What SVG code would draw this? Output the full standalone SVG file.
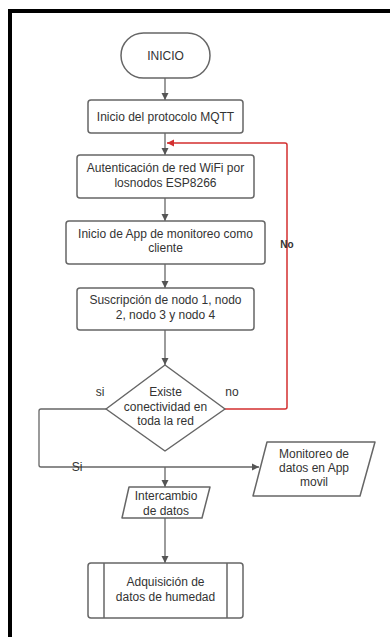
<svg xmlns="http://www.w3.org/2000/svg" width="390" height="637" viewBox="0 0 390 637">
<style>
.box{fill:#fff;stroke:#666;stroke-width:1.5}
.t{font-family:"Liberation Sans",Arial,sans-serif;font-size:12px;fill:#333;text-anchor:middle}
.l{fill:none;stroke:#666;stroke-width:1.3}
.r{fill:none;stroke:#d32f2f;stroke-width:1.5}
</style>
<defs>
<marker id="ah" markerWidth="8" markerHeight="8" refX="7" refY="4" orient="auto" markerUnits="userSpaceOnUse"><path d="M0,0.5 L7,4 L0,7.5 Z" fill="#555"/></marker>
<marker id="ahr" markerWidth="8" markerHeight="8" refX="7" refY="4" orient="auto" markerUnits="userSpaceOnUse"><path d="M0,0.5 L7,4 L0,7.5 Z" fill="#d32f2f"/></marker>
</defs>
<rect x="0" y="0" width="390" height="637" fill="#fff"/>
<path d="M10,637 V11 H390" fill="none" stroke="#000" stroke-width="4"/>
<g id="connectors">
<path class="l" d="M165,78 V100" marker-end="url(#ah)"/>
<path class="l" d="M165,133 V155" marker-end="url(#ah)"/>
<path class="l" d="M165,198 V221" marker-end="url(#ah)"/>
<path class="l" d="M165,264 V288" marker-end="url(#ah)"/>
<path class="l" d="M165,330 V365" marker-end="url(#ah)"/>
<path class="r" d="M225,409 H285 Q287,409 287,407 V145 Q287,143 285,143 H167" marker-end="url(#ahr)"/>
<path class="l" d="M106,409 H41 Q39,409 39,411 V465 Q39,467 41,467 H259" marker-end="url(#ah)"/>
<path class="l" d="M165,467 V487" marker-end="url(#ah)"/>
<path class="l" d="M165,518 V563" marker-end="url(#ah)"/>
<text class="t" x="287" y="248" style="font-size:10px;font-weight:bold">No</text>
<text class="t" x="100" y="396">si</text>
<text class="t" x="232" y="396">no</text>
<text class="t" x="77" y="471">Si</text>
</g>
<g id="inicio">
<rect class="box" x="121" y="33" width="89" height="45" rx="22.5"/>
<text class="t" x="165.5" y="59.5">INICIO</text>
</g>
<g id="mqtt">
<rect class="box" x="88" y="100" width="155" height="33" rx="3"/>
<text class="t" x="165.5" y="121">Inicio del protocolo MQTT</text>
</g>
<g id="auth">
<rect class="box" x="77" y="155" width="177" height="43" rx="3"/>
<text class="t" x="165.5" y="172">Autenticación de red WiFi por</text>
<text class="t" x="165.5" y="186.5">losnodos ESP8266</text>
</g>
<g id="app">
<rect class="box" x="66" y="221" width="199" height="43" rx="3"/>
<text class="t" x="165.5" y="237.5">Inicio de App de monitoreo como</text>
<text class="t" x="165.5" y="252">cliente</text>
</g>
<g id="suscripcion">
<rect class="box" x="77" y="288" width="177" height="42" rx="3"/>
<text class="t" x="165.5" y="304">Suscripción de nodo 1, nodo</text>
<text class="t" x="165.5" y="318.5">2, nodo 3 y nodo 4</text>
</g>
<g id="decision">
<path class="box" d="M165,365 L225,409 L165,451 L106,409 Z" stroke-linejoin="round"/>
<text class="t" x="165.5" y="396">Existe</text>
<text class="t" x="165.5" y="410.5">conectividad en</text>
<text class="t" x="165.5" y="424.5">toda la red</text>
</g>
<g id="monitoreo">
<path class="box" d="M267,442 H375 L360,496 H253 Z" stroke-linejoin="round"/>
<text class="t" x="314" y="458">Monitoreo de</text>
<text class="t" x="314" y="472">datos en App</text>
<text class="t" x="314" y="486">movil</text>
</g>
<g id="intercambio">
<path class="box" d="M129,487 H210 L202,518 H122 Z" stroke-linejoin="round"/>
<text class="t" x="166" y="500">Intercambio</text>
<text class="t" x="166" y="515">de datos</text>
</g>
<g id="adquisicion">
<rect class="box" x="88" y="563" width="155" height="55" rx="3"/>
<line class="box" x1="104" y1="563" x2="104" y2="618"/>
<line class="box" x1="227" y1="563" x2="227" y2="618"/>
<text class="t" x="165.5" y="586">Adquisición de</text>
<text class="t" x="165.5" y="601">datos de humedad</text>
</g>
</svg>
